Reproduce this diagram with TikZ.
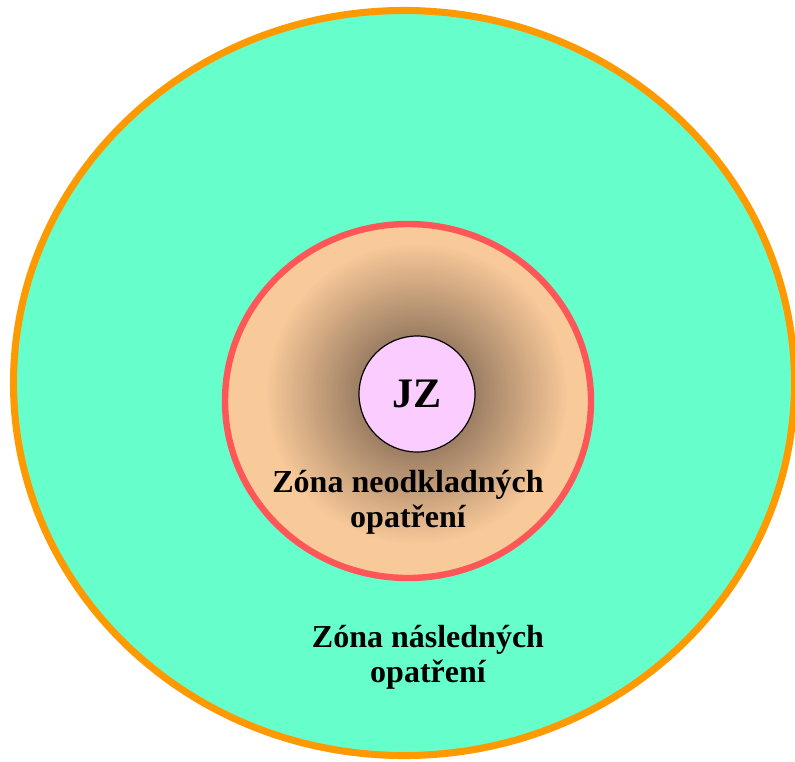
\documentclass[tikz,border=0pt]{standalone}
\usepackage{fontspec}
\setmainfont{Liberation Serif}
\definecolor{zonegreen}{HTML}{66FFCC}
\definecolor{zoneorange}{HTML}{FF9900}
\definecolor{zonered}{HTML}{FF5757}
\definecolor{zonepeach}{HTML}{F8C999}
\definecolor{zonedark}{HTML}{9A7C62}

\definecolor{jzpink}{HTML}{FBCCFF}

\begin{document}
\begin{tikzpicture}[x=0.75pt,y=-0.75pt,
  zonetext/.style={font=\fontsize{24}{26}\selectfont\bfseries,align=center}]
  \useasboundingbox (0,0) rectangle (795,761);
  \clip (0,0) rectangle (795,761);
  % outer zone
  \filldraw[fill=zonegreen,draw=zoneorange,line width=5.3pt] (404,383) ellipse (390.5 and 372.5);
  % inner zone, darkening towards the source
  \fill[zonepeach] (408,401) ellipse (183 and 177);
  \foreach \r [evaluate=\r as \p using {(\r-56)/96*100}] in {152,150,...,56}
    \fill[zonepeach!\p!zonedark] (417,394) circle (\r);
  \draw[zonered,line width=4.8pt] (408,401) ellipse (183 and 177);
  % source
  \node[circle,draw=black,fill=jzpink,line width=0.9pt,minimum size=87pt,inner sep=0pt,
        font=\fontsize{31.5}{34}\selectfont\bfseries] (jz) at (417,394) {JZ};
  \node[zonetext] (inner) at (408,502) {Zóna neodkladných\\opatření};
  \node[zonetext] (outer) at (428,657) {Zóna následných\\opatření};
\end{tikzpicture}
\end{document}
